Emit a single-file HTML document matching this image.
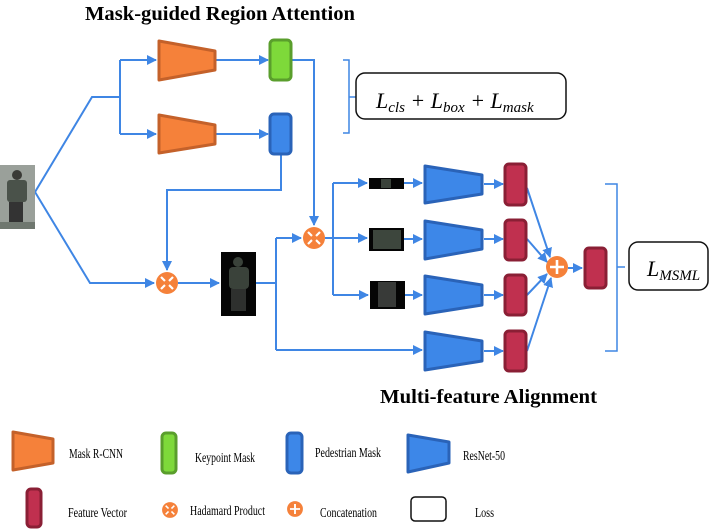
<!DOCTYPE html>
<html><head><meta charset="utf-8"><style>
body{margin:0;background:#fff;}
svg{display:block;}
.t{font-family:"Liberation Serif",serif;}
</style></head><body>
<svg width="710" height="529" viewBox="0 0 710 529" xmlns="http://www.w3.org/2000/svg">
<defs>
<marker id="a" markerWidth="10" markerHeight="10" refX="9" refY="5" orient="auto" markerUnits="userSpaceOnUse">
<path d="M0,0 L10,5 L0,10 z" fill="#3f86e4"/></marker>
<g id="had"><circle r="11" fill="#f5813a"/><path d="M-6,-6 L6,6 M6,-6 L-6,6" stroke="#fff" stroke-width="2.2"/><circle r="3" fill="#f5813a"/></g>
<g id="cat"><circle r="11" fill="#f5813a"/><path d="M0,-7 V7 M-7,0 H7" stroke="#fff" stroke-width="2.6"/></g>
</defs>
<text class="t" x="85" y="20" font-size="20" font-weight="bold" textLength="270" lengthAdjust="spacingAndGlyphs">Mask-guided Region Attention</text>
<text class="t" x="380" y="403" font-size="20" font-weight="bold" textLength="217" lengthAdjust="spacingAndGlyphs">Multi-feature Alignment</text>

<g fill="none" stroke="#3f86e4" stroke-width="2">
<path d="M35,192 L92,97 H120 M120,60 V134"/>
<path d="M120,60 H156" marker-end="url(#a)"/>
<path d="M120,134 H156" marker-end="url(#a)"/>
<path d="M216,60 H268" marker-end="url(#a)"/>
<path d="M216,134 H268" marker-end="url(#a)"/>
<path d="M35,192 L90,283 H154" marker-end="url(#a)"/>
<path d="M291,60 H314 V225" marker-end="url(#a)"/>
<path d="M281,154 V190 H167 V270" marker-end="url(#a)"/>
<path d="M178,283 H219" marker-end="url(#a)"/>
<path d="M256,283 H276 M276,238 V350"/>
<path d="M276,238 H301" marker-end="url(#a)"/>
<path d="M276,350 H422" marker-end="url(#a)"/>
<path d="M325,238 H367" marker-end="url(#a)"/>
<path d="M333,183 V295"/>
<path d="M333,183 H367" marker-end="url(#a)"/>
<path d="M333,295 H368" marker-end="url(#a)"/>
<path d="M404,183 H422" marker-end="url(#a)"/>
<path d="M404,239 H422" marker-end="url(#a)"/>
<path d="M405,295 H422" marker-end="url(#a)"/>
<path d="M484,184 H503" marker-end="url(#a)"/>
<path d="M484,239 H503" marker-end="url(#a)"/>
<path d="M484,295 H503" marker-end="url(#a)"/>
<path d="M484,351 H503" marker-end="url(#a)"/>
<path d="M527,188 L550,257" marker-end="url(#a)"/>
<path d="M527,239 L547,262" marker-end="url(#a)"/>
<path d="M527,295 L547,274" marker-end="url(#a)"/>
<path d="M527,351 L551,278" marker-end="url(#a)"/>
<path d="M568,268 H582" marker-end="url(#a)"/>
<path d="M343,60 H349 V133 H343 M349,97 H356" stroke-width="1.5"/>
<path d="M605,184 H617 V351 H605 M617,267 H625" stroke-width="1.5"/>
</g>

<g fill="#f5813a" stroke="#c4612a" stroke-width="3" stroke-linejoin="round">
<path d="M159,41 L215,51 V70 L159,80 z"/>
<path d="M159,115 L215,125 V144 L159,153 z"/>
</g>
<rect x="270" y="40" width="21" height="40" rx="4" fill="#7ed93a" stroke="#5a9e2c" stroke-width="3"/>
<rect x="270" y="114" width="21" height="40" rx="4" fill="#3d87e8" stroke="#2a63b8" stroke-width="3"/>

<rect x="356" y="73" width="210" height="46" rx="9" fill="#fff" stroke="#111" stroke-width="1.5"/>
<text class="t" x="376" y="108" font-size="22" font-style="italic">L<tspan font-size="15" dy="4">cls</tspan><tspan dy="-4"> + L</tspan><tspan font-size="15" dy="4">box</tspan><tspan dy="-4"> + L</tspan><tspan font-size="15" dy="4">mask</tspan></text>

<rect x="629" y="242" width="79" height="48" rx="9" fill="#fff" stroke="#111" stroke-width="1.5"/>
<text class="t" x="647" y="276" font-size="22" font-style="italic">L<tspan font-size="15" dy="4">MSML</tspan></text>

<rect x="0" y="165" width="35" height="64" fill="#9aa09a"/>
<circle cx="17" cy="175" r="5" fill="#3a3a36"/>
<rect x="7" y="180" width="20" height="22" rx="3" fill="#4a524a"/>
<rect x="9" y="202" width="14" height="20" fill="#333"/>
<rect x="0" y="222" width="35" height="7" fill="#6f776f"/>
<rect x="221" y="252" width="35" height="64" fill="#050505"/>
<circle cx="238" cy="262" r="5" fill="#3a423a"/>
<rect x="229" y="267" width="20" height="22" rx="4" fill="#3a423a"/>
<rect x="231" y="289" width="15" height="22" fill="#2e302e"/>
<rect x="369" y="178" width="35" height="11" fill="#050505"/>
<rect x="381" y="179" width="10" height="9" fill="#3a423a"/>
<rect x="369" y="228" width="35" height="23" fill="#050505"/>
<rect x="373" y="230" width="28" height="19" fill="#3d463d"/>
<rect x="370" y="281" width="35" height="28" fill="#050505"/>
<rect x="378" y="282" width="18" height="25" fill="#383a38"/>

<use href="#had" x="167" y="283"/>
<use href="#had" x="314" y="238"/>
<use href="#cat" x="557" y="267"/>

<g fill="#3d87e8" stroke="#2a63b8" stroke-width="3" stroke-linejoin="round">
<path d="M425,166 L482,175 V194 L425,203 z"/>
<path d="M425,221 L482,230 V249 L425,259 z"/>
<path d="M425,276 L482,285 V305 L425,314 z"/>
<path d="M425,332 L482,341 V361 L425,370 z"/>
</g>
<g fill="#c0304f" stroke="#8a1f35" stroke-width="3">
<rect x="505" y="164" width="21" height="41" rx="4"/>
<rect x="505" y="220" width="21" height="40" rx="4"/>
<rect x="505" y="275" width="21" height="40" rx="4"/>
<rect x="505" y="331" width="21" height="40" rx="4"/>
<rect x="585" y="248" width="21" height="40" rx="4"/>
</g>

<path d="M13,432 L53,439 V463 L13,470 z" fill="#f5813a" stroke="#c4612a" stroke-width="3" stroke-linejoin="round"/>
<text class="t" x="69" y="458" font-size="14" textLength="54" lengthAdjust="spacingAndGlyphs">Mask R-CNN</text>
<rect x="162" y="433" width="14" height="40" rx="4" fill="#7ed93a" stroke="#5a9e2c" stroke-width="3"/>
<text class="t" x="195" y="462" font-size="14" textLength="60" lengthAdjust="spacingAndGlyphs">Keypoint Mask</text>
<rect x="287" y="433" width="15" height="40" rx="4" fill="#3d87e8" stroke="#2a63b8" stroke-width="3"/>
<text class="t" x="315" y="457" font-size="14" textLength="66" lengthAdjust="spacingAndGlyphs">Pedestrian Mask</text>
<path d="M408,435 L449,442 V463 L408,472 z" fill="#3d87e8" stroke="#2a63b8" stroke-width="3" stroke-linejoin="round"/>
<text class="t" x="463" y="460" font-size="14" textLength="42" lengthAdjust="spacingAndGlyphs">ResNet-50</text>
<rect x="27" y="489" width="14" height="38" rx="4" fill="#c0304f" stroke="#8a1f35" stroke-width="3"/>
<text class="t" x="68" y="517" font-size="14" textLength="59" lengthAdjust="spacingAndGlyphs">Feature Vector</text>
<g transform="translate(170,510) scale(0.72)"><use href="#had"/></g>
<text class="t" x="190" y="515" font-size="14" textLength="75" lengthAdjust="spacingAndGlyphs">Hadamard Product</text>
<g transform="translate(295,509) scale(0.72)"><use href="#cat"/></g>
<text class="t" x="320" y="517" font-size="14" textLength="57" lengthAdjust="spacingAndGlyphs">Concatenation</text>
<rect x="411" y="497" width="35" height="24" rx="4" fill="#fff" stroke="#111" stroke-width="1.5"/>
<text class="t" x="475" y="517" font-size="14" textLength="19" lengthAdjust="spacingAndGlyphs">Loss</text>
</svg>
</body></html>
